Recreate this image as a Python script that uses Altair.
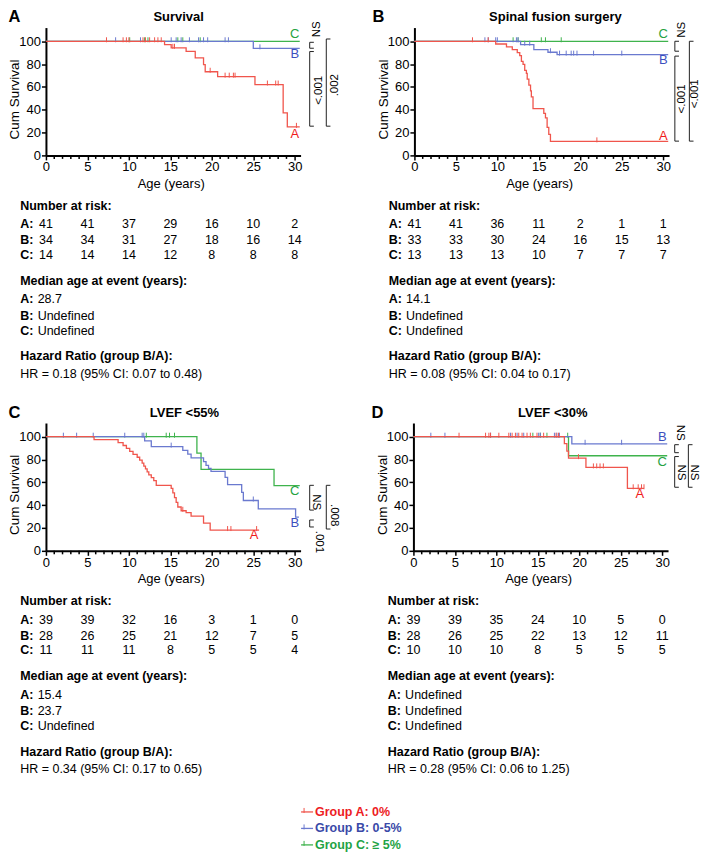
import altair as alt
import pandas as pd

FONT = "Liberation Sans"
GROUPS = ["A", "B", "C"]
LINE_COLORS = {"A": "#f0554c", "B": "#6a79cf", "C": "#3fb34d"}
LABEL_COLORS = {"A": "#f01b1b", "B": "#3c4fbe", "C": "#25a23f"}
LEGEND_COLORS = {"A": "#ed1c24", "B": "#3a49a8", "C": "#1fa345"}
LEGEND_LABELS = ["Group A: 0%", "Group B: 0-5%", "Group C: \u2265 5%"]

X_TICKS = [0, 5, 10, 15, 20, 25, 30]
Y_TICKS = [0, 20, 40, 60, 80, 100]
MINOR_TICKS = [1, 2, 3, 4, 6, 7, 8, 9, 11, 12, 13, 14, 16, 17, 18, 19, 21, 22, 23, 24, 26, 27, 28, 29]
RISK_AGES = [0, 5, 10, 15, 20, 25, 30]
XMAX, YMAX = 30.7, 112
W, H = 255, 128
CENSOR = "M0,-1L0,0.25"

# ---------------- Panel A: Survival ----------------
p1_A_t = [0, 14.3, 15.1, 16.9, 18.0, 19.0, 19.2, 20.7, 25.2, 28.6, 29.1]
p1_A_s = [100, 97.1, 94.3, 91.2, 85.4, 79.5, 73.3, 69.0, 62.1, 37.3, 25.0]
p1_A_end = 30.6
p1_A_ct = [7.3, 9.3, 9.7, 10.0, 11.7, 12.0, 12.5, 13.1, 13.5, 13.9, 15.3, 15.5, 19.8, 21.6, 22.1, 22.6, 22.8, 26.7, 27.7, 28.0, 30.2]
p1_A_cs = [100, 100, 100, 100, 100, 100, 100, 100, 100, 100, 94.3, 94.3, 73.3, 69.0, 69.0, 69.0, 69.0, 62.1, 62.1, 62.1, 25.0]
p1_B_t = [0, 25.0]
p1_B_s = [100, 93.8]
p1_B_end = 30.6
p1_B_ct = [8.4, 11.4, 15.1, 15.7, 16.3, 17.3, 18.4, 19.0, 19.5, 21.6, 22.0, 25.8]
p1_B_cs = [100, 100, 100, 100, 100, 100, 100, 100, 100, 100, 100, 93.8]
p1_C_t = [0]
p1_C_s = [100]
p1_C_end = 30.6
p1_C_ct = [10.1, 11.9, 12.3, 15.9, 16.5, 18.6]
p1_C_cs = [100, 100, 100, 100, 100, 100]
p1_risk_A = [41, 41, 37, 29, 16, 10, 2]
p1_risk_B = [34, 34, 31, 27, 18, 16, 14]
p1_risk_C = [14, 14, 14, 12, 8, 8, 8]
p1_median = ["28.7", "Undefined", "Undefined"]
p1_hr = "HR = 0.18 (95% CI: 0.07 to 0.48)"

# ---------------- Panel B: Spinal fusion surgery ----------------
p2_A_t = [0, 9.8, 11.1, 11.8, 12.4, 12.7, 12.9, 13.1, 13.3, 13.5, 13.6, 13.8, 14.0, 14.1, 14.3, 15.6, 15.8, 16.0, 16.2, 16.4]
p2_A_s = [100, 97.6, 95.1, 92.6, 90.0, 87.4, 82.3, 79.7, 74.5, 71.9, 66.8, 61.6, 56.5, 51.3, 41.0, 36.9, 32.8, 24.6, 18.5, 12.3]
p2_A_end = 30.6
p2_A_ct = [7.0, 8.9, 22.0]
p2_A_cs = [100, 100, 12.3]
p2_B_t = [0, 12.8, 14.4, 16.1, 17.2]
p2_B_s = [100, 97.0, 92.6, 90.4, 88.3]
p2_B_end = 30.6
p2_B_ct = [8.5, 8.9, 9.8, 10.0, 12.3, 12.5, 13.3, 13.9, 16.4, 17.5, 18.3, 18.9, 19.2, 19.6, 21.6, 25.0]
p2_B_cs = [100, 100, 100, 100, 100, 100, 97.0, 97.0, 90.4, 88.3, 88.3, 88.3, 88.3, 88.3, 88.3, 88.3]
p2_C_t = [0]
p2_C_s = [100]
p2_C_end = 30.6
p2_C_ct = [11.9, 12.5, 15.3, 15.8, 17.7]
p2_C_cs = [100, 100, 100, 100, 100]
p2_risk_A = [41, 41, 36, 11, 2, 1, 1]
p2_risk_B = [33, 33, 30, 24, 16, 15, 13]
p2_risk_C = [13, 13, 13, 10, 7, 7, 7]
p2_median = ["14.1", "Undefined", "Undefined"]
p2_hr = "HR = 0.08 (95% CI: 0.04 to 0.17)"

# ---------------- Panel C: LVEF <55% ----------------
p3_A_t = [0, 5.8, 8.7, 9.3, 9.7, 10.1, 10.5, 11.0, 11.3, 11.6, 11.8, 12.0, 12.2, 12.4, 12.7, 13.0, 13.3, 15.1, 15.3, 15.5, 15.7, 15.9, 16.3, 16.9, 17.5, 19.0, 19.8]
p3_A_s = [100, 97.4, 94.9, 92.3, 89.7, 87.2, 84.6, 82.0, 79.5, 76.9, 74.3, 71.8, 69.2, 66.6, 64.1, 61.5, 57.4, 54.8, 50.7, 46.6, 42.5, 38.4, 35.1, 33.4, 30.4, 24.3, 18.2]
p3_A_end = 25.7
p3_A_ct = [16.5, 21.9, 22.3, 25.4]
p3_A_cs = [35.1, 18.2, 18.2, 18.2]
p3_B_t = [0, 11.9, 12.7, 16.5, 17.1, 17.5, 19.0, 19.3, 19.6, 19.9, 21.6, 21.9, 23.6, 23.8, 25.6, 30.1]
p3_B_s = [100, 96.4, 91.3, 88.0, 84.7, 81.4, 78.1, 74.8, 72.2, 69.6, 64.3, 58.0, 51.3, 44.1, 36.8, 29.6]
p3_B_end = 30.5
p3_B_ct = [2.1, 3.7, 5.7, 9.5, 11.6, 11.8, 15.1, 25.0]
p3_B_cs = [100, 100, 100, 100, 100, 100, 91.3, 44.1]
p3_C_t = [0, 18.2, 18.7, 27.5]
p3_C_s = [100, 85.7, 71.4, 57.1]
p3_C_end = 30.6
p3_C_ct = [12.1, 14.5, 14.9, 15.5]
p3_C_cs = [100, 100, 100, 100]
p3_risk_A = [39, 39, 32, 16, 3, 1, 0]
p3_risk_B = [28, 26, 25, 21, 12, 7, 5]
p3_risk_C = [11, 11, 11, 8, 5, 5, 4]
p3_median = ["15.4", "23.7", "Undefined"]
p3_hr = "HR = 0.34 (95% CI: 0.17 to 0.65)"

# ---------------- Panel D: LVEF <30% ----------------
p4_A_t = [0, 18.2, 18.5, 18.7, 20.8, 25.8]
p4_A_s = [100, 93.9, 87.4, 81.2, 73.1, 54.8]
p4_A_end = 27.8
p4_A_ct = [5.5, 8.7, 9.1, 9.3, 10.3, 11.5, 11.9, 12.3, 12.7, 13.1, 13.7, 14.1, 14.9, 15.7, 17.2, 17.5, 19.9, 21.7, 22.1, 22.5, 22.9, 26.5, 27.1, 27.5, 27.8]
p4_A_cs = [100, 100, 100, 100, 100, 100, 100, 100, 100, 100, 100, 100, 100, 100, 100, 100, 81.2, 73.1, 73.1, 73.1, 73.1, 54.8, 54.8, 54.8, 54.8]
p4_B_t = [0, 19.1]
p4_B_s = [100, 93.8]
p4_B_end = 30.6
p4_B_ct = [2.1, 3.8, 9.3, 11.7, 12.5, 13.3, 15.1, 15.3, 17.0, 17.3, 17.6, 20.7, 25.1]
p4_B_cs = [100, 100, 100, 100, 100, 100, 100, 100, 100, 100, 100, 93.8, 93.8]
p4_C_t = [0, 18.7]
p4_C_s = [100, 83.3]
p4_C_end = 30.6
p4_C_ct = [14.4, 15.3, 16.1, 18.6]
p4_C_cs = [100, 100, 100, 100]
p4_risk_A = [39, 39, 35, 24, 10, 5, 0]
p4_risk_B = [28, 26, 25, 22, 13, 12, 11]
p4_risk_C = [10, 10, 10, 8, 5, 5, 5]
p4_median = ["Undefined", "Undefined", "Undefined"]
p4_hr = "HR = 0.28 (95% CI: 0.06 to 1.25)"

# group end labels (group, age, surv)
p1_labels = [("C", 30, 106), ("B", 30, 88.9), ("A", 30, 18.9)]
p2_labels = [("C", 30, 106), ("B", 30, 83.4), ("A", 30, 16.9)]
p3_labels = [("C", 30, 52.2), ("B", 30, 24.8), ("A", 25.1, 14.0)]
p4_labels = [("B", 30, 99.7), ("C", 30, 78.0), ("A", 27.3, 50.1)]

# significance brackets (age, top, bottom) and their texts (age, surv, text)
p1_brackets = [(31.8, 99.1, 93.9), (31.8, 91.0, 25.6), (33.8, 102.0, 25.6)]
p1_btexts = [(32.7, 110.5, "NS"), (32.9, 57.0, "<.001"), (34.9, 61.5, ".002")]
p2_brackets = [(31.4, 100.0, 91.3), (31.4, 87.0, 12.5), (33.15, 100.0, 12.5)]
p2_btexts = [(32.25, 110.0, "NS"), (32.25, 49.5, "<.001"), (33.8, 54.0, "<.001")]
p3_brackets = [(31.8, 57.4, 35.7), (31.8, 27.0, 20.9), (33.8, 57.4, 19.1)]
p3_btexts = [(32.6, 42.6, "NS"), (32.9, 7.8, ".001"), (34.7, 31.3, ".008")]
p4_brackets = [(31.5, 93.0, 86.0), (31.5, 82.6, 55.7), (33.15, 93.0, 55.7)]
p4_btexts = [(32.2, 103.5, "NS"), (32.3, 68.7, "NS"), (33.8, 68.7, "NS")]

# text-block row positions (in survival units below the axis)
ROW_AGE_TITLE = -25
ROW_RISK_TITLE = -44.4
ROW_RISK = [-60.5, -74.4, -87.2]
ROW_MED_TITLE = -110
ROW_MED = [-126, -140.6, -153.7]
ROW_HR_TITLE = -176.2
ROW_HR = -191.6
X_LEFT = -3.1
X_VAL = -1.0
LETTER_V = 128


def steps(t, s, end):
    return pd.DataFrame({"age": list(t) + [end], "surv": list(s) + [s[-1]]})


def make_panel(letter, title, title_x, letter_x, curves, labels, brackets, btexts,
               angle, risks, median, hr):
    xs = alt.Scale(domain=[0, XMAX], nice=False, zero=False)
    ys = alt.Scale(domain=[0, YMAX], nice=False, zero=False)
    common = dict(title=None, grid=False, labelFont=FONT, labelFontSize=13,
                  labelColor="black", domainColor="black", tickColor="black",
                  domainWidth=2, tickWidth=1.5, tickSize=4.5)
    xaxis = alt.Axis(values=X_TICKS, labelPadding=1, labelFlush=False, **common)
    yaxis = alt.Axis(values=Y_TICKS, labelPadding=1, **common)

    def X(f="age"):
        return alt.X(f + ":Q", scale=xs, axis=xaxis)

    def Y(f="surv"):
        return alt.Y(f + ":Q", scale=ys, axis=yaxis)

    def text(rows, **kw):
        df = pd.DataFrame(rows, columns=["age", "surv", "label"])
        return alt.Chart(df).mark_text(font=FONT, color="black", **kw).encode(
            x=X(), y=Y(), text="label:N")

    layers = []
    layers.append(alt.Chart(pd.DataFrame({"age": MINOR_TICKS})).mark_rule(
        color="black", strokeWidth=1.5).encode(x=X(), y=alt.value(H), y2=alt.value(H + 3.5)))

    for g in ["C", "B", "A"]:
        t, s, end, ct, cs = curves[g]
        layers.append(alt.Chart(steps(t, s, end)).mark_line(
            interpolate="step-after", color=LINE_COLORS[g], strokeWidth=1.3).encode(x=X(), y=Y()))
        layers.append(alt.Chart(pd.DataFrame({"age": ct, "surv": cs})).mark_point(
            shape=CENSOR, size=64, filled=False, color=LINE_COLORS[g], strokeWidth=1,
            opacity=1).encode(x=X(), y=Y()))

    for g, a, v in labels:
        layers.append(text([(a, v, g)], fontSize=13, align="center", baseline="middle",
                           ).encode(color=alt.value(LABEL_COLORS[g])))

    vert = pd.DataFrame([(b[0], b[1], b[2]) for b in brackets], columns=["age", "surv", "surv2"])
    layers.append(alt.Chart(vert).mark_rule(color="#222", strokeWidth=1).encode(
        x=X(), y=Y(), y2="surv2:Q"))
    serif_rows = []
    for b in brackets:
        serif_rows.append((b[0], b[0] + 0.5, b[1]))
        serif_rows.append((b[0], b[0] + 0.5, b[2]))
    serif = pd.DataFrame(serif_rows, columns=["age", "age2", "surv"])
    layers.append(alt.Chart(serif).mark_rule(color="#222", strokeWidth=1).encode(
        x=X(), x2="age2:Q", y=Y()))
    layers.append(text(btexts, fontSize=11.5, angle=angle, align="center", baseline="middle"))

    layers.append(text([(title_x, 121, title)], fontSize=13, fontWeight="bold",
                       align="center", baseline="middle"))
    layers.append(text([(letter_x, LETTER_V, letter)], fontSize=16.5, fontWeight="bold",
                       align="left", baseline="top"))
    layers.append(text([(-3.675, 49, "Cum Survival")], fontSize=13.5, angle=270,
                       align="center", baseline="middle"))
    layers.append(text([(15.1, ROW_AGE_TITLE, "Age (years)")], fontSize=13,
                       align="center", baseline="middle"))

    layers.append(text([(X_LEFT, ROW_RISK_TITLE, "Number at risk:")], fontSize=12.5,
                       fontWeight="bold", align="left", baseline="middle"))
    layers.append(text([(X_LEFT, ROW_RISK[i], g + ":") for i, g in enumerate(GROUPS)],
                       fontSize=12.5, fontWeight="bold", align="left", baseline="middle"))
    rows = []
    for i, g in enumerate(GROUPS):
        for a, n in zip(RISK_AGES, risks[g]):
            rows.append((a, ROW_RISK[i], str(n)))
    layers.append(text(rows, fontSize=12.5, align="center", baseline="middle"))

    layers.append(text([(X_LEFT, ROW_MED_TITLE, "Median age at event (years):")], fontSize=12.5,
                       fontWeight="bold", align="left", baseline="middle"))
    layers.append(text([(X_LEFT, ROW_MED[i], g + ":") for i, g in enumerate(GROUPS)],
                       fontSize=12.5, fontWeight="bold", align="left", baseline="middle"))
    layers.append(text([(X_VAL, ROW_MED[i], median[i]) for i in range(3)],
                       fontSize=12.5, align="left", baseline="middle"))

    layers.append(text([(X_LEFT, ROW_HR_TITLE, "Hazard Ratio (group B/A):")], fontSize=12.5,
                       fontWeight="bold", align="left", baseline="middle"))
    layers.append(text([(X_LEFT, ROW_HR, hr)], fontSize=12.5, align="left", baseline="middle"))

    return alt.layer(*layers).properties(width=W, height=H)


pA = make_panel("A", "Survival", 16.0, -4.52,
                {"A": (p1_A_t, p1_A_s, p1_A_end, p1_A_ct, p1_A_cs),
                 "B": (p1_B_t, p1_B_s, p1_B_end, p1_B_ct, p1_B_cs),
                 "C": (p1_C_t, p1_C_s, p1_C_end, p1_C_ct, p1_C_cs)},
                p1_labels, p1_brackets, p1_btexts, 270,
                {"A": p1_risk_A, "B": p1_risk_B, "C": p1_risk_C}, p1_median, p1_hr)
pB = make_panel("B", "Spinal fusion surgery", 17.0, -5.06,
                {"A": (p2_A_t, p2_A_s, p2_A_end, p2_A_ct, p2_A_cs),
                 "B": (p2_B_t, p2_B_s, p2_B_end, p2_B_ct, p2_B_cs),
                 "C": (p2_C_t, p2_C_s, p2_C_end, p2_C_ct, p2_C_cs)},
                p2_labels, p2_brackets, p2_btexts, 270,
                {"A": p2_risk_A, "B": p2_risk_B, "C": p2_risk_C}, p2_median, p2_hr)
pC = make_panel("C", "LVEF <55%", 16.7, -4.52,
                {"A": (p3_A_t, p3_A_s, p3_A_end, p3_A_ct, p3_A_cs),
                 "B": (p3_B_t, p3_B_s, p3_B_end, p3_B_ct, p3_B_cs),
                 "C": (p3_C_t, p3_C_s, p3_C_end, p3_C_ct, p3_C_cs)},
                p3_labels, p3_brackets, p3_btexts, 90,
                {"A": p3_risk_A, "B": p3_risk_B, "C": p3_risk_C}, p3_median, p3_hr)
pD = make_panel("D", "LVEF <30%", 16.8, -5.06,
                {"A": (p4_A_t, p4_A_s, p4_A_end, p4_A_ct, p4_A_cs),
                 "B": (p4_B_t, p4_B_s, p4_B_end, p4_B_ct, p4_B_cs),
                 "C": (p4_C_t, p4_C_s, p4_C_end, p4_C_ct, p4_C_cs)},
                p4_labels, p4_brackets, p4_btexts, 90,
                {"A": p4_risk_A, "B": p4_risk_B, "C": p4_risk_C}, p4_median, p4_hr)

# legend
LEG_Y = [0, 16.5, 33]
LEG_LINE = (255.5, 267.5)
LEG_TICK = 258.5
LEG_TEXT = 269.5
leg_layers = []
for i, g in enumerate(GROUPS):
    df = pd.DataFrame({"label": [LEGEND_LABELS[i]]})
    leg_layers.append(alt.Chart(df).mark_rule(color=LINE_COLORS[g], strokeWidth=1.3).encode(
        x=alt.value(LEG_LINE[0]), x2=alt.value(LEG_LINE[1]), y=alt.value(LEG_Y[i])))
    leg_layers.append(alt.Chart(df).mark_point(shape=CENSOR, size=64, filled=False,
                                               color=LINE_COLORS[g], strokeWidth=1, opacity=1).encode(
        x=alt.value(LEG_TICK), y=alt.value(LEG_Y[i])))
    leg_layers.append(alt.Chart(df).mark_text(font=FONT, fontSize=12.5, fontWeight="bold",
                                              align="left", baseline="middle",
                                              color=LEGEND_COLORS[g]).encode(
        x=alt.value(LEG_TEXT), y=alt.value(LEG_Y[i]), text="label:N"))
legend = alt.layer(*leg_layers).properties(width=400, height=40)

row1 = alt.hconcat(pA, pB, spacing=30)
row2 = alt.hconcat(pC, pD, spacing=30)
grid = alt.vconcat(row1, row2, spacing=23)
chart = alt.vconcat(grid, legend, spacing=29.5).properties(
    padding={"left": 0, "top": 0, "right": 0, "bottom": 0}).configure_view(stroke=None)

chart.save("out.html", embed_options={"renderer": "svg", "actions": False})
